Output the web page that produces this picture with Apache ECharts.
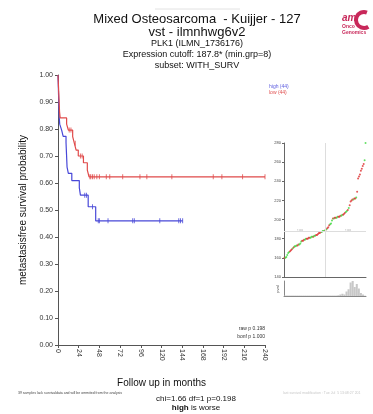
<!DOCTYPE html>
<html>
<head>
<meta charset="utf-8">
<script src="https://cdn.jsdelivr.net/npm/echarts@6/dist/echarts.min.js"></script>
<style>
  html, body { margin: 0; padding: 0; background: #fff; }
  #chart { width: 373px; height: 414px; }
</style>
</head>
<body>
<div id="chart"></div>
<script>
// KM curves (time in months, survival)
var lowTimes = [0, 0.3, 0.6, 0.9, 1.2, 1.5, 1.8, 2.5, 10, 12, 17, 19, 21, 23.5, 29.5, 34, 36, 240];
var lowSurv = [1, 0.977, 0.955, 0.932, 0.909, 0.886, 0.864, 0.841, 0.818, 0.796, 0.772, 0.747, 0.722, 0.70, 0.675, 0.648, 0.623, 0.623];
var highTimes = [0, 0.2, 0.4, 0.6, 0.8, 1.0, 1.2, 1.5, 2, 4.3, 6, 9.3, 9.6, 9.9, 10.2, 10.5, 12, 16, 24.7, 26, 35, 43.7, 144.5];
var highSurv = [1, 0.977, 0.955, 0.932, 0.909, 0.886, 0.864, 0.841, 0.818, 0.795, 0.773, 0.75, 0.727, 0.705, 0.682, 0.659, 0.636, 0.609, 0.583, 0.555, 0.512, 0.46, 0.46];
var lowCensor = [13, 15, 20, 26, 28, 37, 38, 40, 42, 45, 48, 56, 60, 75, 95, 103, 132, 180, 190, 214, 240];
var highCensor = [31, 33, 40, 46.7, 48, 58, 86.6, 88.5, 118, 140, 142, 144.5];
var monthTicks = [0, 24, 48, 72, 96, 120, 144, 168, 192, 216, 240];

// expression inset (sorted values) and group colour per point
var exprValues = [160, 160, 161, 163, 165, 166, 167, 168, 169, 170,
  171, 172, 172, 173, 173, 174, 174, 175, 177, 178,
  178, 179, 179, 180, 180, 180, 181, 181, 181, 182,
  182, 182, 183, 183, 184, 184, 185, 186, 186, 187,
  187, 188, 188, 188, 189, 190, 191, 192, 194, 195,
  196, 199, 201, 201, 202, 202, 202, 203, 203, 203,
  204, 204, 205, 205, 206, 207, 208, 209, 210, 212,
  215, 219, 220, 221, 221, 222, 222, 223, 229, 243,
  245, 247, 251, 253, 256, 258, 262, 280];
var exprGroup = 'rgggggrrrgrgggrrgggrrrggrrrrgggrggrrrrrrggggrgrrrgggrgrrggrrrggrrrggrgrrrrgrrgrrrrrrrr';
var pvalBars = [0.03, 0.03, 0.03, 0.03, 0.03, 0.03, 0.03, 0.03, 0.03, 0.03,
  0.03, 0.03, 0.03, 0.03, 0.03, 0.03, 0.03, 0.03, 0.03, 0.03,
  0.03, 0.03, 0.03, 0.03, 0.03, 0.03, 0.05, 0.1, 0.15, 0.1,
  0.3, 0.45, 0.9, 1.0, 0.6, 0.8, 0.5, 0.2, 0.1, 0.02];
var cutoff = 187.8;

var RED = '#e04a4a', BLUE = '#4848d8';

function pairs(t, s) {
  return t.map(function (x, i) { return [x, s[i]]; });
}
function stepAt(t, s, x) {
  var v = s[0];
  for (var i = 0; i < t.length; i++) { if (t[i] <= x) v = s[i]; }
  return v;
}

var chart = echarts.init(document.getElementById('chart'));
var font = 'Liberation Sans, Arial, sans-serif';

var option = {
  animation: false,
  textStyle: { fontFamily: font },
  grid: [
    { left: 58, top: 75, width: 207, height: 270 },
    { left: 284, top: 143, width: 82, height: 134 },
    { left: 284, top: 281, width: 82, height: 15 }
  ],
  xAxis: [{
    gridIndex: 0, type: 'value', min: 0, max: 240, interval: 24,
    name: 'Follow up in months', nameLocation: 'middle', nameGap: 33,
    nameTextStyle: { fontSize: 10, color: '#111', fontFamily: font },
    axisLine: { lineStyle: { color: '#555' } },
    axisTick: { length: 3, lineStyle: { color: '#555' } },
    axisLabel: { rotate: -90, fontSize: 7, color: '#333', margin: 4,
      customValues: monthTicks },
    splitLine: { show: false }
  }, {
    gridIndex: 1, type: 'value', min: 0, max: 88,
    axisLine: { lineStyle: { color: '#666' } },
    axisTick: { show: false }, axisLabel: { show: false }, splitLine: { show: false }
  }, {
    gridIndex: 2, type: 'category', data: pvalBars.map(function (v, i) { return i; }),
    axisLine: { lineStyle: { color: '#888' } },
    axisTick: { show: false }, axisLabel: { show: false }
  }],
  yAxis: [{
    gridIndex: 0, type: 'value', min: 0, max: 1, interval: 0.1,
    name: 'metastasisfree survival probability', nameLocation: 'middle', nameGap: 24,
    nameTextStyle: { fontSize: 10, color: '#111', fontFamily: font },
    axisLine: { show: true, lineStyle: { color: '#555' } },
    axisTick: { show: true, length: 3, lineStyle: { color: '#555' } },
    axisLabel: { fontSize: 7, color: '#333', margin: 5,
      formatter: function (v) { return v.toFixed(2); } },
    splitLine: { show: false }
  }, {
    gridIndex: 1, type: 'value', min: 140, max: 280, interval: 20,
    axisLine: { show: true, lineStyle: { color: '#666' } },
    axisTick: { show: true, length: 2, lineStyle: { color: '#666' } },
    axisLabel: { fontSize: 4, color: '#444', margin: 3 },
    splitLine: { show: false }
  }, {
    gridIndex: 2, type: 'value', min: 0, max: 1,
    axisLine: { show: true, lineStyle: { color: '#888' } },
    axisTick: { show: false }, axisLabel: { show: false }, splitLine: { show: false }
  }],
  series: [{
    type: 'line', xAxisIndex: 0, yAxisIndex: 0, step: 'end', symbol: 'none',
    data: pairs(highTimes, highSurv), lineStyle: { color: BLUE, width: 1.2 }
  }, {
    type: 'line', xAxisIndex: 0, yAxisIndex: 0, step: 'end', symbol: 'none',
    data: pairs(lowTimes, lowSurv), lineStyle: { color: RED, width: 1.2 }
  }, {
    type: 'scatter', xAxisIndex: 0, yAxisIndex: 0, symbol: 'rect', symbolSize: [1, 5],
    itemStyle: { color: BLUE },
    data: highCensor.map(function (t) { return [t, stepAt(highTimes, highSurv, t)]; })
  }, {
    type: 'scatter', xAxisIndex: 0, yAxisIndex: 0, symbol: 'rect', symbolSize: [1, 5],
    itemStyle: { color: RED },
    data: lowCensor.map(function (t) { return [t, stepAt(lowTimes, lowSurv, t)]; })
  }, {
    type: 'scatter', xAxisIndex: 1, yAxisIndex: 1, symbolSize: 2,
    data: exprValues.map(function (v, i) {
      return { value: [i + 0.5, v],
        itemStyle: { color: exprGroup[i] === 'r' ? '#dd3030' : '#3ed83e' } };
    }),
    markLine: {
      silent: true, symbol: 'none', label: { show: false },
      lineStyle: { color: '#ddd', type: 'solid', width: 1 },
      data: [{ yAxis: cutoff }, { xAxis: 44 }]
    },
    z: 3
  }, {
    type: 'bar', xAxisIndex: 2, yAxisIndex: 2, data: pvalBars, barCategoryGap: 0,
    itemStyle: { color: '#c8c8c8' }
  }],
  graphic: [
    { type: 'line', shape: { x1: 155, y1: 9, x2: 240, y2: 9 }, style: { stroke: '#e2e2e2', lineWidth: 1 } },
    { type: 'text', x: 197, y: 19, style: { text: 'Mixed Osteosarcoma  - Kuijjer - 127', font: '13px ' + font, fill: '#111', align: 'center', verticalAlign: 'middle' } },
    { type: 'text', x: 197, y: 32, style: { text: 'vst - ilmnhwg6v2', font: '13px ' + font, fill: '#111', align: 'center', verticalAlign: 'middle' } },
    { type: 'text', x: 197, y: 44, style: { text: 'PLK1 (ILMN_1736176)', font: '9px ' + font, fill: '#111', align: 'center', verticalAlign: 'middle' } },
    { type: 'text', x: 197, y: 55, style: { text: 'Expression cutoff: 187.8* (min.grp=8)', font: '9px ' + font, fill: '#111', align: 'center', verticalAlign: 'middle' } },
    { type: 'text', x: 197, y: 66, style: { text: 'subset: WITH_SURV', font: '9px ' + font, fill: '#111', align: 'center', verticalAlign: 'middle' } },
    // logo
    { type: 'arc', shape: { cx: 364, cy: 20, r: 8, startAngle: -1.2, endAngle: 1.0, clockwise: false }, style: { stroke: '#c8285a', lineWidth: 4, fill: null } },
    { type: 'text', x: 342, y: 18, style: { text: 'am', font: 'italic bold 10px ' + font, fill: '#c8285a', verticalAlign: 'middle' } },
    { type: 'text', x: 342, y: 27, style: { text: 'Onco', font: 'bold 5px ' + font, fill: '#c8285a', verticalAlign: 'middle' } },
    { type: 'text', x: 342, y: 33, style: { text: 'Genomics', font: 'bold 5px ' + font, fill: '#c8285a', verticalAlign: 'middle' } },
    // legend
    { type: 'text', x: 269, y: 87, style: { text: 'high (44)', font: '5px ' + font, fill: '#6060e0', verticalAlign: 'middle' } },
    { type: 'text', x: 269, y: 93, style: { text: 'low (44)', font: '5px ' + font, fill: '#e05050', verticalAlign: 'middle' } },
    { type: 'text', x: 265, y: 329, style: { text: 'raw p 0.198', font: '5px ' + font, fill: '#333', align: 'right', verticalAlign: 'middle' } },
    { type: 'text', x: 265, y: 337, style: { text: 'bonf p 1.000', font: '5px ' + font, fill: '#333', align: 'right', verticalAlign: 'middle' } },
    // inset cutoff labels
    { type: 'text', x: 300, y: 231, style: { text: '188', font: '4px ' + font, fill: '#bbb', align: 'center', verticalAlign: 'middle', backgroundColor: '#fff' } },
    { type: 'text', x: 348, y: 231, style: { text: '188', font: '4px ' + font, fill: '#bbb', align: 'center', verticalAlign: 'middle', backgroundColor: '#fff' } },
    { type: 'text', x: 278, y: 289, rotation: Math.PI / 2, style: { text: 'pval', font: '4px ' + font, fill: '#555', align: 'center', verticalAlign: 'middle' } },
    // footer
    { type: 'text', x: 18, y: 393, style: { text: '39 samples lack survivaldata and will be ommited from the analysis', font: '3.5px ' + font, fill: '#444', verticalAlign: 'middle' } },
    { type: 'text', x: 196, y: 399, style: { text: 'chi=1.66 df=1 p=0.198', font: '8px ' + font, fill: '#111', align: 'center', verticalAlign: 'middle' } },
    { type: 'text', x: 196, y: 408, style: { text: '{b|high} is worse', font: '8px ' + font, fill: '#111', align: 'center', verticalAlign: 'middle', rich: { b: { fontWeight: 'bold', fontSize: 8, fontFamily: font } } } },
    { type: 'text', x: 283, y: 393, style: { text: 'last survival modification : Tue Jul  5 13:08:27 201', font: '3.5px ' + font, fill: '#c8c8c8', verticalAlign: 'middle' } }
  ]
};
chart.setOption(option);
</script>
</body>
</html>
